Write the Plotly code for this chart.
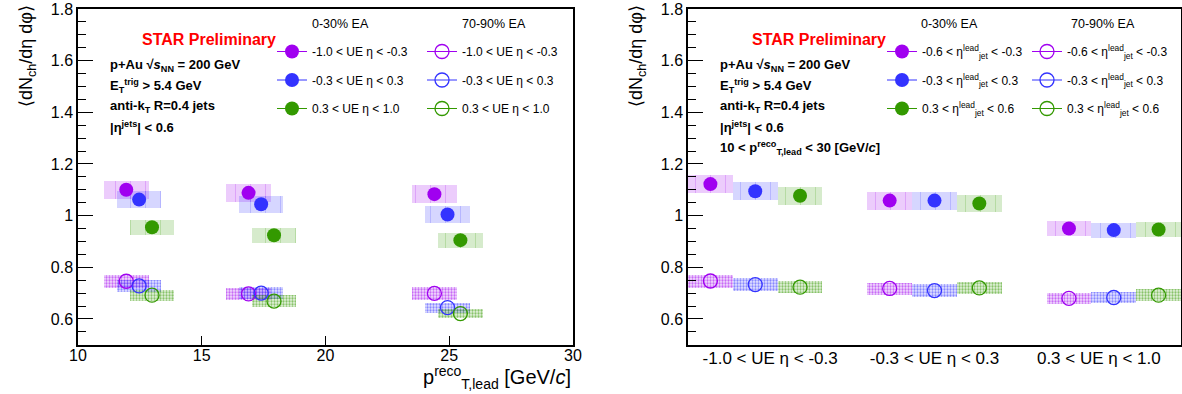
import plotly.graph_objects as go

FONT = "Liberation Sans, Arial, sans-serif"

# ---------------- data ----------------
colors = ["#a000f0", "#3333ff", "#339900"]
ue_labels = ["-1.0 < UE η < -0.3", "-0.3 < UE η < 0.3", "0.3 < UE η < 1.0"]
jet_labels = ["-0.6 < η<sup>lead</sup><sub>jet</sub> < -0.3",
              "-0.3 < η<sup>lead</sup><sub>jet</sub> < 0.3",
              "0.3 < η<sup>lead</sup><sub>jet</sub> < 0.6"]

# left panel: vs pT,lead (x per UE-eta series)
pt_ue_m = [11.95, 16.89, 24.40]
pt_ue_0 = [12.47, 17.40, 24.93]
pt_ue_p = [12.99, 17.92, 25.45]

hi_ue_m = [1.100, 1.088, 1.083]
hi_ue_0 = [1.062, 1.044, 1.004]
hi_ue_p = [0.955, 0.924, 0.905]
hi_sys_ue_m = [0.034, 0.034, 0.034]
hi_sys_ue_0 = [0.034, 0.034, 0.032]
hi_sys_ue_p = [0.030, 0.029, 0.029]

lo_ue_m = [0.746, 0.697, 0.699]
lo_ue_0 = [0.728, 0.700, 0.644]
lo_ue_p = [0.692, 0.669, 0.621]
lo_sys_ue_m = [0.024, 0.024, 0.025]
lo_sys_ue_0 = [0.024, 0.024, 0.019]
lo_sys_ue_p = [0.022, 0.023, 0.018]

# right panel: vs UE eta bin (values per leading-jet-eta series)
hi_jet_m = [1.122, 1.058, 0.950]
hi_jet_0 = [1.094, 1.058, 0.944]
hi_jet_p = [1.077, 1.047, 0.946]
hi_sys_jet_m = [0.036, 0.035, 0.030]
hi_sys_jet_0 = [0.035, 0.035, 0.029]
hi_sys_jet_p = [0.035, 0.034, 0.030]

lo_jet_m = [0.747, 0.718, 0.680]
lo_jet_0 = [0.733, 0.710, 0.683]
lo_jet_p = [0.723, 0.720, 0.692]
lo_sys_jet_m = [0.025, 0.023, 0.021]
lo_sys_jet_0 = [0.025, 0.024, 0.022]
lo_sys_jet_p = [0.024, 0.022, 0.023]

# ---------------- figure ----------------
W, H = 1182, 394
fig = go.Figure()


def rgba(hexc, a):
    h = hexc.lstrip("#")
    r, g, b = int(h[0:2], 16), int(h[2:4], 16), int(h[4:6], 16)
    return f"rgba({r},{g},{b},{a})"


def add_panel(xa, ya, xs_list, hi_list, hisys_list, lo_list, losys_list, bw):
    for i, c in enumerate(colors):
        xs = xs_list[i]
        # systematic boxes, high-EA (solid with vertical lines)
        fig.add_trace(go.Bar(
            x=xs, y=[2 * s for s in hisys_list[i]],
            base=[v - s for v, s in zip(hi_list[i], hisys_list[i])],
            width=bw, xaxis=xa, yaxis=ya, showlegend=False, hoverinfo="skip",
            marker=dict(color=rgba(c, 0.2), line=dict(width=0),
                        pattern=dict(shape="|", fillmode="overlay", fgcolor=c,
                                     fgopacity=0.2, size=15, solidity=0.07))))
        # systematic boxes, low-EA (dotted hatch)
        fig.add_trace(go.Bar(
            x=xs, y=[2 * s for s in losys_list[i]],
            base=[v - s for v, s in zip(lo_list[i], losys_list[i])],
            width=bw, xaxis=xa, yaxis=ya, showlegend=False, hoverinfo="skip",
            marker=dict(color=rgba(c, 0.12), line=dict(width=0),
                        pattern=dict(shape=".", fillmode="overlay", fgcolor=c,
                                     fgopacity=0.55, size=3, solidity=0.45))))
    for i, c in enumerate(colors):
        xs = xs_list[i]
        fig.add_trace(go.Scatter(
            x=xs, y=hi_list[i], mode="markers", xaxis=xa, yaxis=ya,
            showlegend=False, marker=dict(symbol="circle", size=14, color=c)))
        fig.add_trace(go.Scatter(
            x=xs, y=lo_list[i], mode="markers", xaxis=xa, yaxis=ya,
            showlegend=False,
            marker=dict(symbol="circle-open", size=14, color=c, line=dict(width=1.3))))


# left panel
add_panel("x", "y",
          [pt_ue_m, pt_ue_0, pt_ue_p],
          [hi_ue_m, hi_ue_0, hi_ue_p], [hi_sys_ue_m, hi_sys_ue_0, hi_sys_ue_p],
          [lo_ue_m, lo_ue_0, lo_ue_p], [lo_sys_ue_m, lo_sys_ue_0, lo_sys_ue_p], 1.8)

# right panel: positions from (UE bin index, jet-eta series index)
n_bins = len(ue_labels)
pos = [[g * 4 + s + 0.5 for g in range(n_bins)] for s in range(3)]
add_panel("x2", "y2", pos,
          [hi_jet_m, hi_jet_0, hi_jet_p], [hi_sys_jet_m, hi_sys_jet_0, hi_sys_jet_p],
          [lo_jet_m, lo_jet_0, lo_jet_p], [lo_sys_jet_m, lo_sys_jet_0, lo_sys_jet_p], 1.0)

# legend entries
legend_sets = [("legend", ue_labels, "circle"), ("legend2", ue_labels, "circle-open"),
               ("legend3", jet_labels, "circle"), ("legend4", jet_labels, "circle-open")]
for k, (lg, labels, sym) in enumerate(legend_sets):
    for i, c in enumerate(colors):
        fig.add_trace(go.Scatter(
            x=[None], y=[None], mode="lines+markers", name=labels[i],
            legend=lg, legendgroup=f"{lg}_{i}", showlegend=True,
            xaxis="x" if k < 2 else "x2", yaxis="y" if k < 2 else "y2",
            line=dict(color=c, width=1),
            marker=dict(symbol=sym, size=14, color=c,
                        line=dict(width=1.3) if sym == "circle-open" else dict(width=0))))

ydom = [1 - 344.8 / H, 1 - 8.9 / H]
xdom1 = [78 / W, 573 / W]
xdom2 = [688 / W, 1181 / W]

yax = dict(range=[0.5, 1.8], dtick=0.2, ticks="inside", ticklen=15, tickwidth=1.2,
           tickcolor="black", showline=True, linecolor="black", linewidth=1.5,
           mirror=True, showgrid=False, zeroline=False, automargin=False,
           tickfont=dict(family=FONT, size=16, color="black"),
           minor=dict(dtick=0.05, ticks="inside", ticklen=8, tickcolor="black",
                      tickwidth=1, showgrid=False))


def leg(xpx, ypx):
    return dict(x=xpx / W, y=1 - ypx / H, xanchor="left", yanchor="top",
                bgcolor="rgba(0,0,0,0)", font=dict(family=FONT, size=12, color="black"),
                traceorder="grouped", tracegroupgap=9.5, itemclick=False,
                itemdoubleclick=False)


fig.update_layout(
    width=W, height=H, margin=dict(l=0, r=0, t=0, b=0, autoexpand=False),
    paper_bgcolor="white", plot_bgcolor="white",
    barmode="overlay", bargap=0,
    font=dict(family=FONT, color="black"),
    xaxis=dict(domain=xdom1, range=[10, 30], tickvals=[10, 15, 20, 25, 30],
               ticks="inside", ticklen=9, tickcolor="black", showline=True,
               linecolor="black", linewidth=1.5, mirror=True, showgrid=False,
               zeroline=False, automargin=False, ticklabelstandoff=-5,
               tickfont=dict(family=FONT, size=16, color="black"),
               anchor="y"),
    yaxis=dict(domain=ydom, anchor="x", **yax),
    xaxis2=dict(domain=xdom2, range=[0, 11],
                tickvals=[11 / 6, 11 / 2, 55 / 6], ticktext=ue_labels, ticks="",
                showline=True, linecolor="black", linewidth=1.5, mirror=True,
                showgrid=False, zeroline=False, automargin=False,
                ticklabelstandoff=-3,
                tickfont=dict(family=FONT, size=17, color="black"), anchor="y2"),
    yaxis2=dict(domain=ydom, anchor="x2", **yax),
    legend=leg(272, 37), legend2=leg(422, 37),
    legend3=leg(882, 37), legend4=leg(1027, 37),
)

ytitle = "⟨dN<sub>ch</sub>/dη dφ⟩"
ann = []
for x0, extra in [(0, False), (610, True)]:
    ann.append(dict(x=(x0 + 28) / W, y=1 - 3 / H, xref="paper", yref="paper",
                    xanchor="center", yanchor="top", text=ytitle, textangle=-90,
                    showarrow=False, font=dict(family=FONT, size=18, color="black")))
    ann.append(dict(x=(x0 + 140) / W, y=1 - 39 / H,
                    xref="paper", yref="paper", xanchor="left", yanchor="middle",
                    text="<b>STAR Preliminary</b>", showarrow=False,
                    font=dict(family=FONT, size=16, color="#ff0000")))
    lines = ["<b>p+Au √<i>s</i><sub>NN</sub> = 200 GeV</b>",
             "<b>E<sub>T</sub><sup>trig</sup> > 5.4 GeV</b>",
             "<b>anti-k<sub>T</sub> R=0.4 jets</b>",
             "<b>|η<sup>jets</sup>| < 0.6</b>"]
    if extra:
        lines.append("<b>10 < p<sup>reco</sup><sub>T,lead</sub> < 30 [GeV/<i>c</i>]</b>")
    for j, t in enumerate(lines):
        ann.append(dict(x=(x0 + 108) / W, y=1 - (65 + 20.7 * j) / H, xref="paper",
                        yref="paper", xanchor="left", yanchor="middle", text=t,
                        showarrow=False, font=dict(family=FONT, size=13, color="black")))

for xpx in [310, 460, 919, 1069]:
    txt = "0-30% EA" if xpx in (310, 919) else "70-90% EA"
    ann.append(dict(x=xpx / W, y=1 - 24 / H, xref="paper", yref="paper",
                    xanchor="left", yanchor="middle", text=txt, showarrow=False,
                    font=dict(family=FONT, size=12.5, color="black")))

ann.append(dict(x=573 / W, y=1 - 377 / H, xref="paper", yref="paper",
                xanchor="right", yanchor="middle",
                text="p<sup>reco</sup><sub>T,lead</sub> [GeV/<i>c</i>]",
                showarrow=False, font=dict(family=FONT, size=20, color="black")))
fig.update_layout(annotations=ann)

fig.write_html("out.html")
